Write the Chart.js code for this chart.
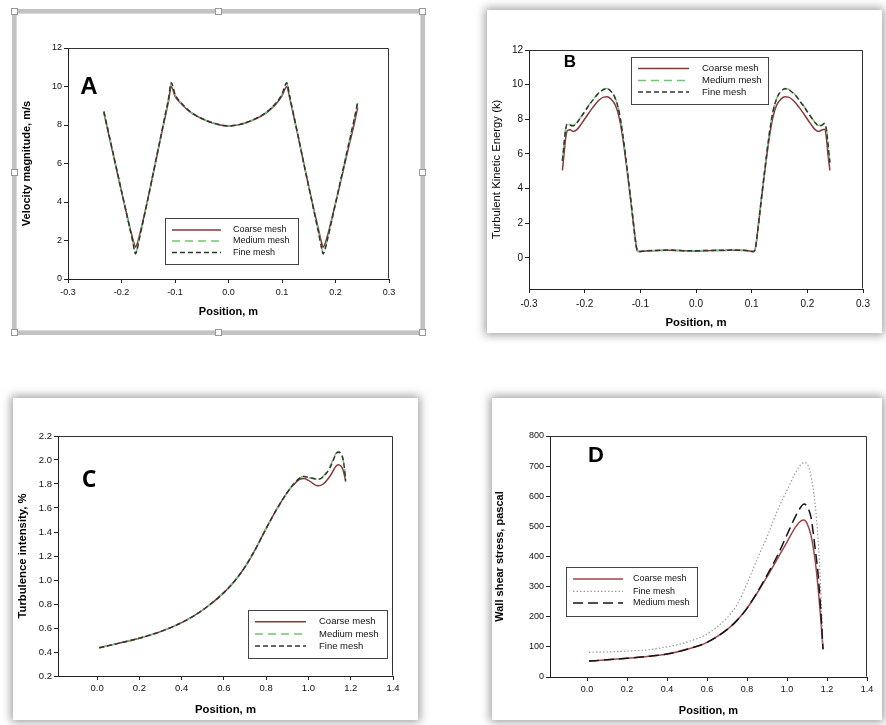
<!DOCTYPE html>
<html><head><meta charset="utf-8">
<script src="https://cdn.jsdelivr.net/npm/chart.js@4/dist/chart.umd.min.js"></script>
<style>
html,body{margin:0;padding:0;background:#fff;width:886px;height:725px;overflow:hidden;}
.card{position:absolute;background:#fff;box-shadow:0 0 9px 2px rgba(0,0,0,0.38);}
.frame{position:absolute;border:4px solid #c2c2c2;box-sizing:border-box;box-shadow:inset 0 0 0 1px #d8d8d8;}
.handle{position:absolute;width:7px;height:7px;background:#fff;border:1px solid #9a9a9a;box-sizing:border-box;}
canvas{position:absolute;}
</style></head><body>
<div class="frame" style="left:12px;top:9px;width:413px;height:326px;"></div>
<div class="handle" style="left:11px;top:8px"></div>
<div class="handle" style="left:215px;top:8px"></div>
<div class="handle" style="left:419px;top:8px"></div>
<div class="handle" style="left:11px;top:169px"></div>
<div class="handle" style="left:419px;top:169px"></div>
<div class="handle" style="left:11px;top:329px"></div>
<div class="handle" style="left:215px;top:329px"></div>
<div class="handle" style="left:419px;top:329px"></div>
<div class="card" style="left:487px;top:10px;width:395px;height:323px;"></div>
<div class="card" style="left:13px;top:398px;width:405px;height:322px;"></div>
<div class="card" style="left:492px;top:398px;width:390px;height:322px;"></div>
<canvas id="cA" width="405" height="318" style="left:16px;top:13px"></canvas>
<canvas id="cB" width="395" height="323" style="left:487px;top:10px"></canvas>
<canvas id="cC" width="405" height="322" style="left:13px;top:398px"></canvas>
<canvas id="cD" width="390" height="322" style="left:492px;top:398px"></canvas>
<script>
// ---------- Panel A: Velocity magnitude ----------
const xA = [-0.233,-0.223,-0.213,-0.203,-0.193,-0.185,-0.179,-0.176,-0.174,-0.171,-0.167,-0.16,-0.15,-0.14,-0.13,-0.12,-0.112,-0.107,-0.1,-0.09,-0.08,-0.07,-0.06,-0.05,-0.04,-0.03,-0.02,-0.01,0.002,0.01,0.02,0.03,0.04,0.05,0.06,0.07,0.08,0.09,0.1,0.109,0.114,0.12,0.13,0.14,0.15,0.16,0.168,0.173,0.177,0.18,0.185,0.195,0.205,0.215,0.225,0.235,0.2415];
const coarseA = [8.65,7.4,6.15,4.9,3.7,2.75,2.1,1.8,1.65,1.8,2.2,3.0,4.25,5.55,6.9,8.2,9.25,10.0,9.5,9.15,8.87,8.64,8.47,8.33,8.21,8.11,8.03,7.98,7.95,7.97,8.02,8.09,8.19,8.31,8.45,8.62,8.85,9.13,9.52,10.0,9.45,8.7,7.42,6.1,4.8,3.55,2.6,2.0,1.65,1.8,2.25,3.35,4.5,5.7,6.9,8.05,8.9];
const mediumA = [8.7,7.45,6.2,4.95,3.7,2.7,1.97,1.55,1.35,1.55,2.08,2.95,4.25,5.6,6.95,8.28,9.38,10.15,9.58,9.19,8.89,8.65,8.48,8.34,8.22,8.12,8.04,7.98,7.95,7.97,8.02,8.1,8.2,8.32,8.46,8.64,8.88,9.17,9.58,10.15,9.52,8.74,7.45,6.1,4.8,3.5,2.47,1.78,1.35,1.55,2.08,3.3,4.55,5.8,7.05,8.28,9.15];
const fineA = [8.7,7.45,6.2,4.95,3.7,2.7,1.95,1.5,1.3,1.5,2.05,2.95,4.25,5.6,6.95,8.3,9.4,10.2,9.6,9.2,8.9,8.66,8.48,8.34,8.22,8.12,8.04,7.98,7.95,7.97,8.02,8.1,8.2,8.32,8.46,8.64,8.88,9.18,9.6,10.2,9.55,8.75,7.45,6.1,4.8,3.5,2.45,1.75,1.3,1.5,2.05,3.3,4.55,5.8,7.05,8.3,9.2];
const xTicksA = [-0.3,-0.2,-0.1,0,0.1,0.2,0.3];
const yTicksA = [0,2,4,6,8,10,12];

// ---------- Panel B: Turbulent kinetic energy ----------
const xB = [-0.24,-0.237,-0.234,-0.231,-0.226,-0.221,-0.214,-0.205,-0.195,-0.185,-0.175,-0.166,-0.16,-0.153,-0.145,-0.138,-0.131,-0.124,-0.117,-0.111,-0.107,-0.104,-0.09,-0.07,-0.05,-0.03,0,0.03,0.05,0.07,0.09,0.104,0.107,0.111,0.117,0.124,0.131,0.138,0.145,0.153,0.16,0.166,0.175,0.185,0.195,0.205,0.214,0.221,0.226,0.231,0.234,0.237,0.2405];
const coarseB = [5.05,6.0,6.95,7.35,7.4,7.3,7.4,7.78,8.25,8.7,9.08,9.28,9.3,9.18,8.82,8.1,6.8,5.1,3.25,1.6,0.6,0.36,0.4,0.42,0.44,0.42,0.4,0.42,0.43,0.44,0.42,0.36,0.6,1.6,3.25,5.1,6.8,8.1,8.82,9.18,9.3,9.28,9.08,8.7,8.25,7.78,7.4,7.3,7.38,7.42,7.0,6.0,5.05];
const mediumB = [5.6,6.6,7.47,7.74,7.67,7.64,7.82,8.22,8.7,9.14,9.52,9.74,9.78,9.64,9.22,8.42,7.0,5.2,3.3,1.6,0.6,0.36,0.4,0.43,0.45,0.42,0.41,0.43,0.44,0.45,0.42,0.36,0.6,1.6,3.3,5.2,7.0,8.42,9.22,9.64,9.78,9.74,9.52,9.14,8.7,8.22,7.82,7.64,7.67,7.77,7.47,6.6,5.5];
const fineB = [5.6,6.6,7.45,7.72,7.65,7.62,7.8,8.2,8.68,9.12,9.5,9.72,9.76,9.62,9.2,8.4,7.0,5.2,3.3,1.6,0.6,0.36,0.4,0.43,0.45,0.42,0.41,0.43,0.44,0.45,0.42,0.36,0.6,1.6,3.3,5.2,7.0,8.4,9.2,9.62,9.76,9.72,9.5,9.12,8.68,8.2,7.8,7.62,7.65,7.75,7.45,6.6,5.5];
const xTicksB = [-0.3,-0.2,-0.1,0,0.1,0.2,0.3];
const yTicksB = [0,2,4,6,8,10,12];

// ---------- Panel C: Turbulence intensity ----------
const xC = [0.01,0.1,0.2,0.3,0.4,0.5,0.6,0.65,0.7,0.75,0.8,0.85,0.9,0.93,0.96,0.98,1.0,1.045,1.07,1.1,1.14,1.158,1.168,1.176];
const coarseC = [0.435,0.472,0.515,0.57,0.645,0.75,0.895,0.99,1.11,1.26,1.43,1.59,1.73,1.795,1.84,1.845,1.83,1.785,1.8,1.86,1.96,1.94,1.89,1.82];
const mediumC = [0.435,0.472,0.515,0.57,0.645,0.75,0.895,0.99,1.11,1.26,1.43,1.59,1.73,1.8,1.85,1.865,1.855,1.84,1.865,1.94,2.07,2.045,1.96,1.84];
const fineC = [0.435,0.472,0.515,0.57,0.645,0.75,0.895,0.99,1.11,1.26,1.43,1.59,1.73,1.8,1.85,1.863,1.855,1.84,1.86,1.93,2.065,2.04,1.96,1.83];
const xTicksC = [0,0.2,0.4,0.6,0.8,1.0,1.2,1.4];
const yTicksC = [0.2,0.4,0.6,0.8,1.0,1.2,1.4,1.6,1.8,2.0,2.2];

// ---------- Panel D: Wall shear stress ----------
const xD = [0.01,0.1,0.2,0.3,0.4,0.5,0.6,0.7,0.75,0.8,0.85,0.9,0.95,1.0,1.04,1.07,1.085,1.1,1.12,1.14,1.155,1.168,1.18];
const coarseD = [53,57,62,68,76,92,115,157,188,228,278,332,390,448,495,518,521,510,470,390,300,200,92];
const fineD = [82,83,86,90,100,116,143,196,240,310,390,465,550,620,675,705,712,708,668,577,460,300,92];
const mediumD = [53,57,62,68,76,92,115,157,188,228,280,338,400,472,530,565,574,566,530,430,345,230,92];
const xTicksD = [0,0.2,0.4,0.6,0.8,1.0,1.2,1.4];
const yTicksD = [0,100,200,300,400,500,600,700,800];

const F = '"Liberation Sans", Arial, sans-serif';

const decor = {
  id: 'decor',
  afterDatasetsDraw(chart, args, o) {
    const {ctx, chartArea: a} = chart;
    ctx.save();
    ctx.setLineDash([]);
    ctx.strokeStyle = '#333'; ctx.lineWidth = 1;
    const l = Math.round(a.left) + 0.5, r = Math.round(a.right) - 0.5, t = Math.round(a.top) + 0.5, b = Math.round(a.bottom) - 0.5;
    ctx.beginPath(); ctx.moveTo(l, t); ctx.lineTo(r, t); ctx.lineTo(r, b); ctx.stroke();
    ctx.font = o.letter.font; ctx.fillStyle = '#000';
    ctx.textAlign = 'center'; ctx.textBaseline = 'middle';
    ctx.fillText(o.letter.text, a.left + o.letter.dx, a.top + o.letter.dy);
    const L = o.legend;
    const bx = Math.round(a.left + L.dx), by = Math.round(a.top + L.dy);
    ctx.fillStyle = '#fff'; ctx.fillRect(bx, by, L.w, L.h);
    ctx.strokeStyle = '#444'; ctx.lineWidth = 1;
    ctx.strokeRect(bx + 0.5, by + 0.5, L.w, L.h);
    ctx.font = L.fontSize + 'px ' + F; ctx.textAlign = 'left'; ctx.textBaseline = 'middle';
    chart.data.datasets.forEach((d, i) => {
      const y = by + L.rows[i];
      ctx.strokeStyle = d.borderColor; ctx.lineWidth = d.borderWidth;
      ctx.setLineDash(d.borderDash || []);
      ctx.beginPath(); ctx.moveTo(bx + L.lx0, y); ctx.lineTo(bx + L.lx1, y); ctx.stroke();
      ctx.setLineDash([]);
      ctx.fillStyle = '#111';
      ctx.fillText(d.label, bx + L.tx, y);
    });
    ctx.restore();
  }
};

function makePanel(id, P) {
  const datasets = P.series.map(s => ({
    label: s.label,
    data: P.x.map((xv, i) => ({x: xv, y: s.values[i]})),
    borderColor: s.color, borderWidth: s.width, borderDash: s.dash, order: s.order,
    pointRadius: 0, fill: false, cubicInterpolationMode: 'monotone'
  }));
  new Chart(document.getElementById(id), {
    type: 'line',
    data: {datasets},
    options: {
      responsive: false, animation: false, events: [],
      layout: {padding: P.pad},
      plugins: {legend: {display: false}, tooltip: {enabled: false},
        decor: {letter: P.letter, legend: P.legend}},
      scales: {
        x: {
          type: 'linear', min: P.xMin, max: P.xMax,
          afterBuildTicks: s => { s.ticks = P.xTicks.map(v => ({value: v})); },
          afterFit: s => { s.height = P.xH; },
          ticks: {callback: v => Number(v).toFixed(P.xDec), font: {size: P.tick, family: F}, color: '#111', padding: P.xTickPad, autoSkip: false, maxRotation: 0, minRotation: 0},
          grid: {drawOnChartArea: false, tickLength: 4, color: '#222'},
          border: {color: '#222', width: 1},
          title: {display: true, text: P.xTitle, color: '#000', font: {size: P.titleSize, weight: 'bold', family: F}, padding: {top: 0, bottom: 0}}
        },
        y: {
          type: 'linear', min: P.yMin, max: P.yMax,
          afterBuildTicks: s => { s.ticks = P.yTicks.map(v => ({value: v})); },
          afterFit: s => { s.width = P.yW; },
          ticks: {callback: v => Number(v).toFixed(P.yDec), font: {size: P.tick, family: F}, color: '#111', padding: 2, autoSkip: false},
          grid: {drawOnChartArea: false, tickLength: 4, color: '#222'},
          border: {color: '#222', width: 1},
          title: {display: true, text: P.yTitle, color: '#000', font: {size: P.titleSize, weight: P.yTitleWeight, family: F}, padding: {top: P.yTitlePad, bottom: 0}}
        }
      }
    },
    plugins: [decor]
  });
}

const COARSE = '#86393a', MED = '#74c474', FINE = '#333333';

makePanel('cA', {
  x: xA, xMin: -0.3, xMax: 0.3, yMin: 0, yMax: 12, xTicks: xTicksA, yTicks: yTicksA, xDec: 1, yDec: 0,
  pad: {left: 0, top: 35, right: 32, bottom: 12}, yW: 52, xH: 40, xTickPad: 4, tick: 9, titleSize: 11,
  xTitle: 'Position, m', yTitle: 'Velocity magnitude, m/s', yTitleWeight: 'bold', yTitlePad: 4.4,
  series: [
    {label: 'Coarse mesh', values: coarseA, color: COARSE, width: 1.5, dash: [], order: 3},
    {label: 'Medium mesh', values: mediumA, color: MED, width: 1.5, dash: [8, 5], order: 2},
    {label: 'Fine mesh', values: fineA, color: FINE, width: 1.5, dash: [5, 3], order: 1}
  ],
  letter: {text: 'A', font: 'bold 24px ' + F, dx: 21, dy: 39},
  legend: {dx: 97, dy: 170, w: 133, h: 46, rows: [12, 23, 34.5], lx0: 7, lx1: 56, tx: 68, fontSize: 9}
});

makePanel('cB', {
  x: xB, xMin: -0.3, xMax: 0.3, yMin: -1.8, yMax: 12, xTicks: xTicksB, yTicks: yTicksB, xDec: 1, yDec: 0,
  pad: {left: 0, top: 40, right: 19, bottom: 3.4}, yW: 42, xH: 40.6, xTickPad: 5, tick: 10, titleSize: 11.3,
  xTitle: 'Position, m', yTitle: 'Turbulent Kinetic Energy (k)', yTitleWeight: 'normal', yTitlePad: 3.2,
  series: [
    {label: 'Coarse mesh', values: coarseB, color: COARSE, width: 1.5, dash: [], order: 3},
    {label: 'Medium mesh', values: mediumB, color: MED, width: 1.5, dash: [8, 5], order: 2},
    {label: 'Fine mesh', values: fineB, color: FINE, width: 1.5, dash: [5, 3], order: 1}
  ],
  letter: {text: 'B', font: 'bold 17px ' + F, dx: 41, dy: 12},
  legend: {dx: 102, dy: 7, w: 137, h: 47, rows: [11.6, 23.6, 35], lx0: 7, lx1: 58, tx: 71, fontSize: 9.5}
});

makePanel('cC', {
  x: xC, xMin: -0.185, xMax: 1.4, yMin: 0.2, yMax: 2.2, xTicks: xTicksC, yTicks: yTicksC, xDec: 1, yDec: 1,
  pad: {left: 0, top: 38, right: 25, bottom: 3.4}, yW: 45, xH: 40.6, xTickPad: 3, tick: 9.5, titleSize: 11.3,
  xTitle: 'Position, m', yTitle: 'Turbulence intensity, %', yTitleWeight: 'bold', yTitlePad: 3.2,
  series: [
    {label: 'Coarse mesh', values: coarseC, color: COARSE, width: 1.5, dash: [], order: 3},
    {label: 'Medium mesh', values: mediumC, color: MED, width: 1.5, dash: [8, 5], order: 2},
    {label: 'Fine mesh', values: fineC, color: FINE, width: 1.5, dash: [5, 3], order: 1}
  ],
  letter: {text: 'C', font: 'bold 23px "Open Sans", ' + F, dx: 31, dy: 44},
  legend: {dx: 190, dy: 174, w: 139, h: 48, rows: [11.7, 24, 36], lx0: 7, lx1: 58, tx: 71, fontSize: 9.5}
});

makePanel('cD', {
  x: xD, xMin: -0.185, xMax: 1.4, yMin: 0, yMax: 800, xTicks: xTicksD, yTicks: yTicksD, xDec: 1, yDec: 0,
  pad: {left: 0, top: 38, right: 15, bottom: 2.4}, yW: 58, xH: 40.6, xTickPad: 3, tick: 9, titleSize: 11,
  xTitle: 'Position, m', yTitle: 'Wall shear stress, pascal', yTitleWeight: 'bold', yTitlePad: 1.4,
  series: [
    {label: 'Coarse mesh', values: coarseD, color: '#a04646', width: 1.5, dash: [], order: 3},
    {label: 'Fine mesh', values: fineD, color: '#9c9c9c', width: 1.2, dash: [1.5, 2], order: 2},
    {label: 'Medium mesh', values: mediumD, color: '#151515', width: 1.5, dash: [10, 5], order: 1}
  ],
  letter: {text: 'D', font: 'bold 22px ' + F, dx: 46, dy: 20},
  legend: {dx: 16, dy: 131, w: 131, h: 49, rows: [12, 24.4, 36], lx0: 7, lx1: 57, tx: 67, fontSize: 9}
});
</script>
</body></html>
